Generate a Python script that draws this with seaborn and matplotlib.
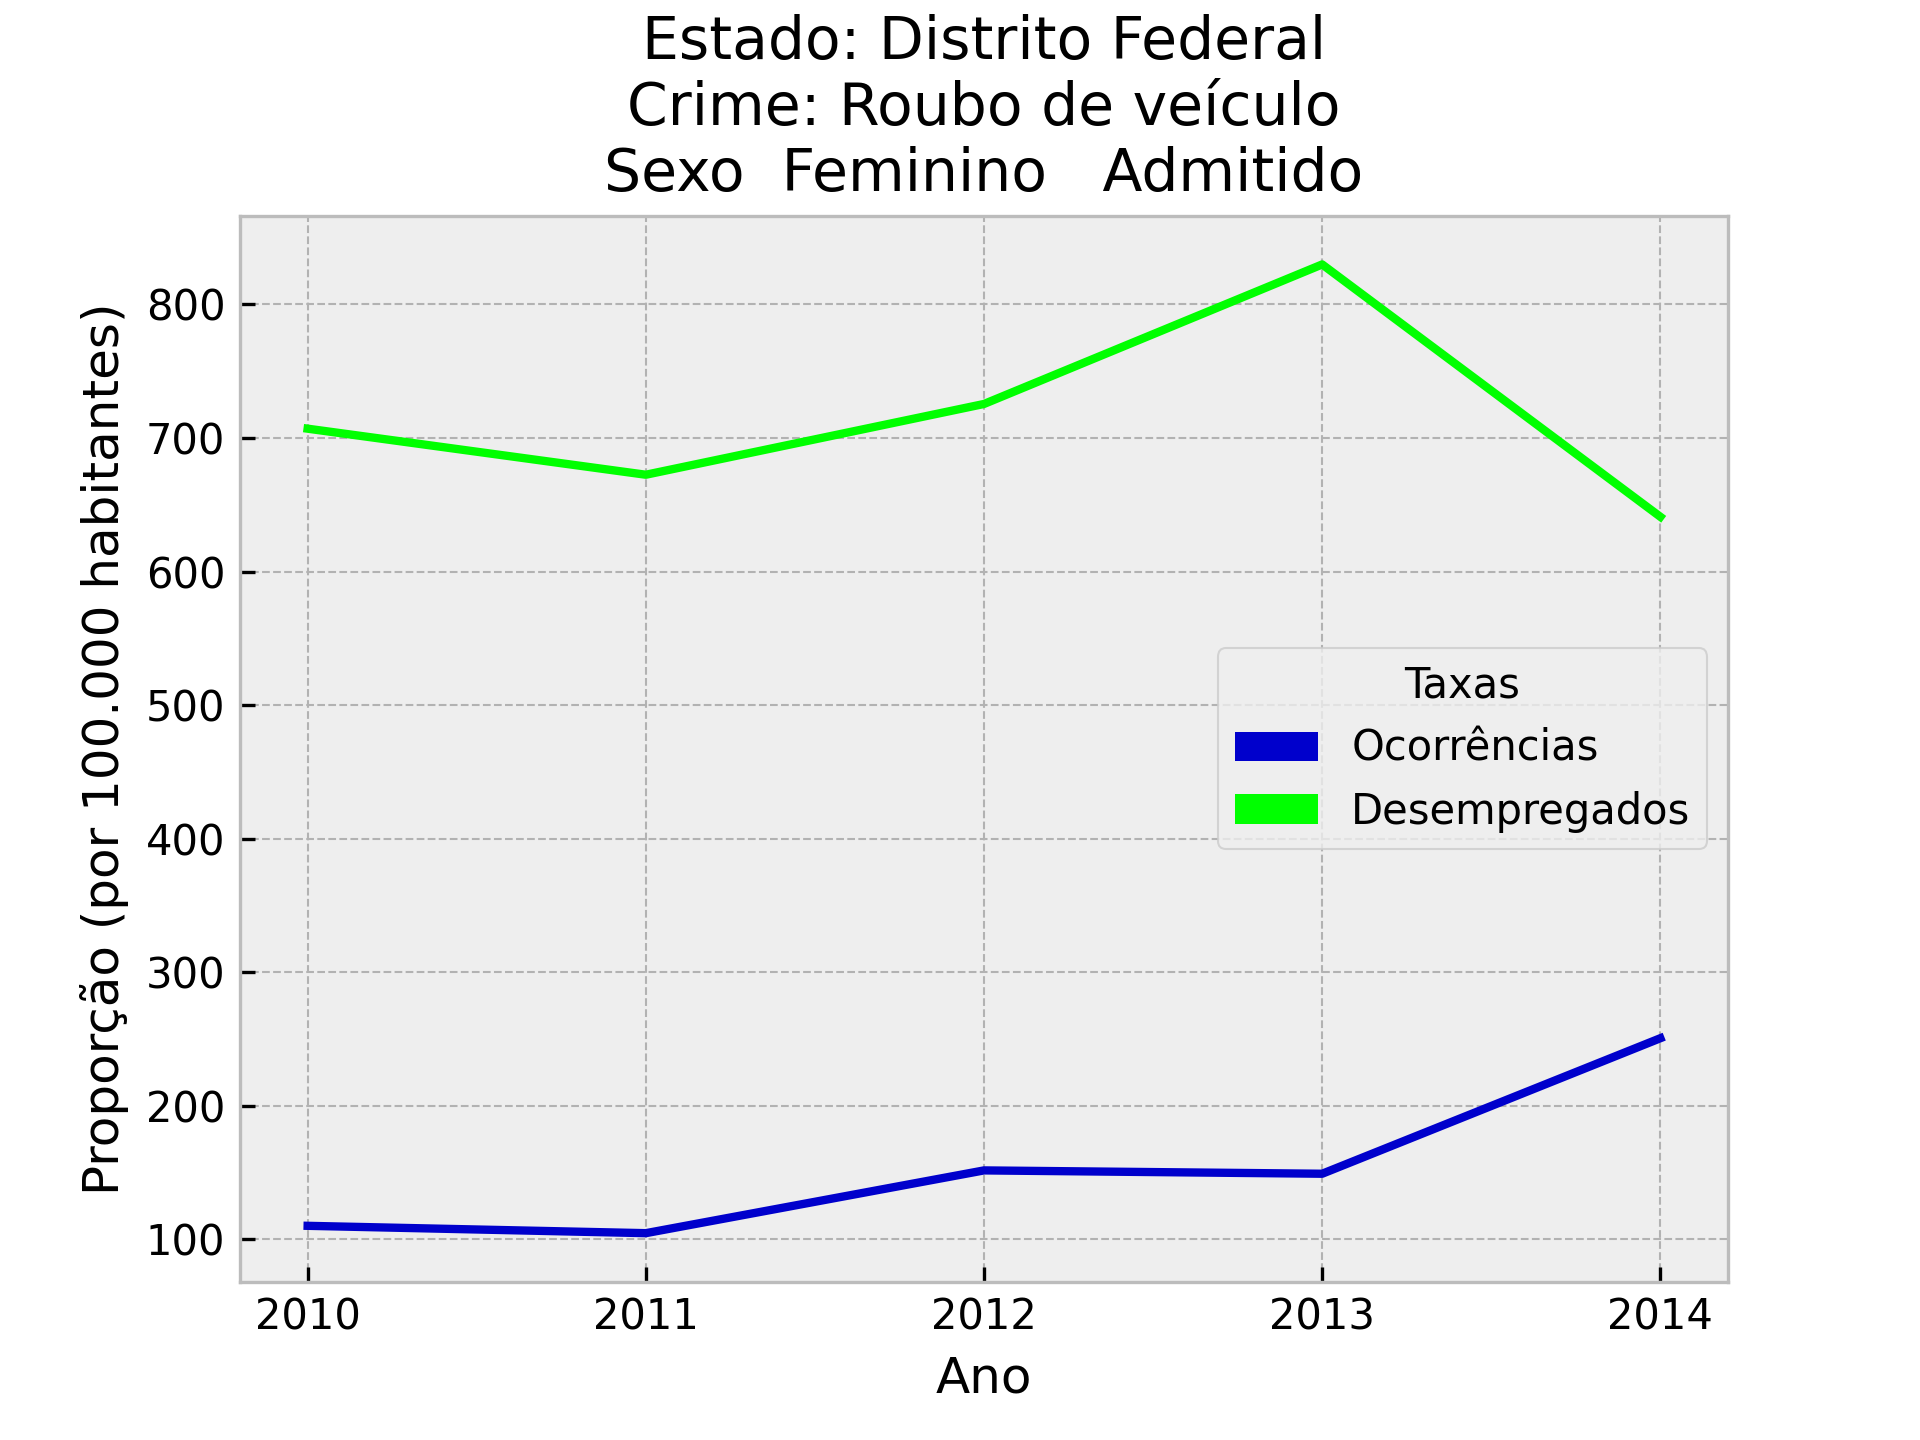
import pandas as pd
import seaborn as sns
import matplotlib.pyplot as plt
from matplotlib.patches import Patch

#bmh style gives the grey background and dashed grid
plt.style.use('bmh')

#data
anos = [2010, 2011, 2012, 2013, 2014]
ocorrencias = [110, 104.5, 151.5, 149, 250.5]
desempregados = [707, 672.5, 725.5, 830, 641]
series = ['Ocorrências', 'Desempregados']
cores = ['#0000CC', '#00FF00']

df = pd.DataFrame({
    'Ano': anos * 2,
    'Valor': ocorrencias + desempregados,
    'Taxa': [series[0]] * len(anos) + [series[1]] * len(anos),
})

fig, ax = plt.subplots(figsize=(6.4, 4.8), dpi=300)
fig.subplots_adjust(left=0.125, right=0.9, bottom=0.11, top=0.85)

sns.lineplot(data=df, x='Ano', y='Valor', hue='Taxa', palette=cores, linewidth=2, ax=ax)

ax.set_xticks(anos)
ax.set_title("Estado: Distrito Federal\nCrime: Roubo de veículo\nSexo  Feminino   Admitido", fontsize=14)
ax.set_xlabel("Ano")
ax.set_ylabel("Proporção (por 100.000 habitantes)")

#legend with filled boxes instead of lines
handles = [Patch(facecolor=c, label=s) for c, s in zip(cores, series)]
ax.legend(handles=handles, title="Taxas", loc='center right')

plt.savefig('out.png', dpi=300)
